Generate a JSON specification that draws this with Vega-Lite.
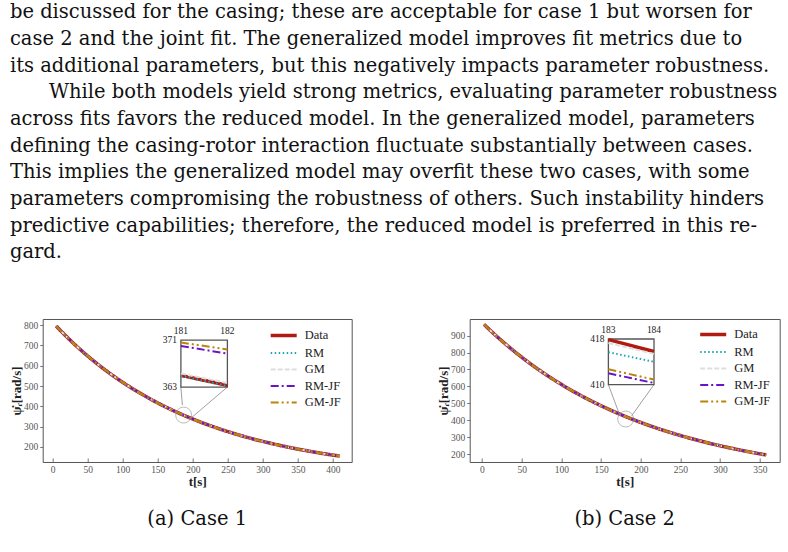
{
  "$schema": "https://vega.github.io/schema/vega-lite/v6.json",
  "background": "white",
  "padding": {"left": 9.7, "top": 2, "right": 0, "bottom": 0},
  "config": {
    "font": "DejaVu Serif",
    "view": {"stroke": "#555", "strokeWidth": 1},
    "axis": {
      "domain": false, "grid": false, "labelOverlap": false, "labelFlush": false, "tickCount": 20,
      "labelFont": "Liberation Serif", "labelFontSize": 9.5, "labelColor": "#555",
      "tickColor": "#555", "tickWidth": 0.8,
      "titleFont": "Liberation Serif", "titleFontWeight": "bold", "titleFontSize": 13, "titleColor": "#222"
    },
    "axisX": {"tickSize": -4, "labelPadding": 7, "titlePadding": 1},
    "axisY": {"tickSize": 3, "labelPadding": 2, "titlePadding": 0},
    "legend": {
      "labelFont": "Liberation Serif", "labelFontSize": 12.5, "labelColor": "#222",
      "symbolType": "M-2,0H2", "symbolSize": 169, "rowPadding": 2.5, "labelOffset": 12.5, "padding": 0
    }
  },
  "title": {
    "text": [
      "be discussed for the casing; these are acceptable for case 1 but worsen for",
      "case 2 and the joint fit. The generalized model improves fit metrics due to",
      "its additional parameters, but this negatively impacts parameter robustness.",
      "\u200b\u2003\u2003While both models yield strong metrics, evaluating parameter robustness",
      "across fits favors the reduced model. In the generalized model, parameters",
      "defining the casing-rotor interaction fluctuate substantially between cases.",
      "This implies the generalized model may overfit these two cases, with some",
      "parameters compromising the robustness of others. Such instability hinders",
      "predictive capabilities; therefore, the reduced model is preferred in this re-",
      "gard."
    ],
    "anchor": "start", "frame": "bounds",
    "font": "DejaVu Serif", "fontSize": 19.5, "fontWeight": "normal",
    "lineHeight": 26.7, "color": "#111", "offset": 54
  },
  "datasets": {
    "case1": [
      {"t": 5, "Data": 795.0, "RM": 795.0, "GM": 795.0, "RM-JF": 795.0, "GM-JF": 795.0},
      {"t": 15, "Data": 759.3, "RM": 759.3, "GM": 759.3, "RM-JF": 759.3, "GM-JF": 759.3},
      {"t": 25, "Data": 725.4, "RM": 725.4, "GM": 725.4, "RM-JF": 725.4, "GM-JF": 725.4},
      {"t": 35, "Data": 693.1, "RM": 693.1, "GM": 693.1, "RM-JF": 693.1, "GM-JF": 693.1},
      {"t": 45, "Data": 662.3, "RM": 662.3, "GM": 662.3, "RM-JF": 662.3, "GM-JF": 662.3},
      {"t": 55, "Data": 633.1, "RM": 633.1, "GM": 633.1, "RM-JF": 633.1, "GM-JF": 633.1},
      {"t": 65, "Data": 605.2, "RM": 605.2, "GM": 605.2, "RM-JF": 605.2, "GM-JF": 605.2},
      {"t": 75, "Data": 578.7, "RM": 578.7, "GM": 578.7, "RM-JF": 578.7, "GM-JF": 578.7},
      {"t": 85, "Data": 553.5, "RM": 553.5, "GM": 553.5, "RM-JF": 553.5, "GM-JF": 553.5},
      {"t": 95, "Data": 529.5, "RM": 529.5, "GM": 529.5, "RM-JF": 529.5, "GM-JF": 529.5},
      {"t": 105, "Data": 506.6, "RM": 506.6, "GM": 506.6, "RM-JF": 506.6, "GM-JF": 506.6},
      {"t": 115, "Data": 484.8, "RM": 484.8, "GM": 484.8, "RM-JF": 484.8, "GM-JF": 484.8},
      {"t": 125, "Data": 464.1, "RM": 464.1, "GM": 464.1, "RM-JF": 464.1, "GM-JF": 464.1},
      {"t": 135, "Data": 444.4, "RM": 444.4, "GM": 444.4, "RM-JF": 444.4, "GM-JF": 444.4},
      {"t": 145, "Data": 425.6, "RM": 425.6, "GM": 425.6, "RM-JF": 425.6, "GM-JF": 425.6},
      {"t": 155, "Data": 407.7, "RM": 407.7, "GM": 407.7, "RM-JF": 407.7, "GM-JF": 407.7},
      {"t": 165, "Data": 390.7, "RM": 390.7, "GM": 390.7, "RM-JF": 390.7, "GM-JF": 390.7},
      {"t": 175, "Data": 374.5, "RM": 374.5, "GM": 374.5, "RM-JF": 374.5, "GM-JF": 374.5},
      {"t": 185, "Data": 359.1, "RM": 359.1, "GM": 359.1, "RM-JF": 359.1, "GM-JF": 359.1},
      {"t": 195, "Data": 344.4, "RM": 344.4, "GM": 344.4, "RM-JF": 344.4, "GM-JF": 344.4},
      {"t": 205, "Data": 330.5, "RM": 330.5, "GM": 330.5, "RM-JF": 330.5, "GM-JF": 330.5},
      {"t": 215, "Data": 317.2, "RM": 317.2, "GM": 317.2, "RM-JF": 317.2, "GM-JF": 317.2},
      {"t": 225, "Data": 304.6, "RM": 304.6, "GM": 304.6, "RM-JF": 304.6, "GM-JF": 304.6},
      {"t": 235, "Data": 292.5, "RM": 292.5, "GM": 292.5, "RM-JF": 292.5, "GM-JF": 292.5},
      {"t": 245, "Data": 281.1, "RM": 281.1, "GM": 281.1, "RM-JF": 281.1, "GM-JF": 281.1},
      {"t": 255, "Data": 270.2, "RM": 270.2, "GM": 270.2, "RM-JF": 270.2, "GM-JF": 270.2},
      {"t": 265, "Data": 259.8, "RM": 259.8, "GM": 259.8, "RM-JF": 259.8, "GM-JF": 259.8},
      {"t": 275, "Data": 249.9, "RM": 249.9, "GM": 249.9, "RM-JF": 249.9, "GM-JF": 249.9},
      {"t": 285, "Data": 240.5, "RM": 240.5, "GM": 240.5, "RM-JF": 240.5, "GM-JF": 240.5},
      {"t": 295, "Data": 231.6, "RM": 231.6, "GM": 231.6, "RM-JF": 231.6, "GM-JF": 231.6},
      {"t": 305, "Data": 223.1, "RM": 223.1, "GM": 223.1, "RM-JF": 223.1, "GM-JF": 223.1},
      {"t": 315, "Data": 215.0, "RM": 215.0, "GM": 215.0, "RM-JF": 215.0, "GM-JF": 215.0},
      {"t": 325, "Data": 207.3, "RM": 207.3, "GM": 207.3, "RM-JF": 207.3, "GM-JF": 207.3},
      {"t": 335, "Data": 199.9, "RM": 199.9, "GM": 199.9, "RM-JF": 199.9, "GM-JF": 199.9},
      {"t": 345, "Data": 192.9, "RM": 192.9, "GM": 192.9, "RM-JF": 192.9, "GM-JF": 192.9},
      {"t": 355, "Data": 186.3, "RM": 186.3, "GM": 186.3, "RM-JF": 186.3, "GM-JF": 186.3},
      {"t": 365, "Data": 180.0, "RM": 180.0, "GM": 180.0, "RM-JF": 180.0, "GM-JF": 180.0},
      {"t": 375, "Data": 173.9, "RM": 173.9, "GM": 173.9, "RM-JF": 173.9, "GM-JF": 173.9},
      {"t": 385, "Data": 168.2, "RM": 168.2, "GM": 168.2, "RM-JF": 168.2, "GM-JF": 168.2},
      {"t": 395, "Data": 162.7, "RM": 162.7, "GM": 162.7, "RM-JF": 162.7, "GM-JF": 162.7},
      {"t": 405, "Data": 157.5, "RM": 157.5, "GM": 157.5, "RM-JF": 157.5, "GM-JF": 157.5},
      {"t": 410, "Data": 155.0, "RM": 155.0, "GM": 155.0, "RM-JF": 155.0, "GM-JF": 155.0}
    ],
    "case2": [
      {"t": 2.5, "Data": 966.0, "RM": 966.0, "GM": 966.0, "RM-JF": 966.0, "GM-JF": 966.0},
      {"t": 12.5, "Data": 921.4, "RM": 921.4, "GM": 921.4, "RM-JF": 921.4, "GM-JF": 921.4},
      {"t": 22.5, "Data": 878.9, "RM": 878.9, "GM": 878.9, "RM-JF": 878.9, "GM-JF": 878.9},
      {"t": 32.5, "Data": 838.4, "RM": 838.4, "GM": 838.4, "RM-JF": 838.4, "GM-JF": 838.4},
      {"t": 42.5, "Data": 799.8, "RM": 799.8, "GM": 799.8, "RM-JF": 799.8, "GM-JF": 799.8},
      {"t": 52.5, "Data": 763.1, "RM": 763.1, "GM": 763.1, "RM-JF": 763.1, "GM-JF": 763.1},
      {"t": 62.5, "Data": 728.1, "RM": 728.1, "GM": 728.1, "RM-JF": 728.1, "GM-JF": 728.1},
      {"t": 72.5, "Data": 694.8, "RM": 694.8, "GM": 694.8, "RM-JF": 694.8, "GM-JF": 694.8},
      {"t": 82.5, "Data": 663.1, "RM": 663.1, "GM": 663.1, "RM-JF": 663.1, "GM-JF": 663.1},
      {"t": 92.5, "Data": 632.9, "RM": 632.9, "GM": 632.9, "RM-JF": 632.9, "GM-JF": 632.9},
      {"t": 102.5, "Data": 604.2, "RM": 604.2, "GM": 604.2, "RM-JF": 604.2, "GM-JF": 604.2},
      {"t": 112.5, "Data": 576.8, "RM": 576.8, "GM": 576.8, "RM-JF": 576.8, "GM-JF": 576.8},
      {"t": 122.5, "Data": 550.7, "RM": 550.7, "GM": 550.7, "RM-JF": 550.7, "GM-JF": 550.7},
      {"t": 132.5, "Data": 525.9, "RM": 525.9, "GM": 525.9, "RM-JF": 525.9, "GM-JF": 525.9},
      {"t": 142.5, "Data": 502.2, "RM": 502.2, "GM": 502.2, "RM-JF": 502.2, "GM-JF": 502.2},
      {"t": 152.5, "Data": 479.7, "RM": 479.7, "GM": 479.7, "RM-JF": 479.7, "GM-JF": 479.7},
      {"t": 162.5, "Data": 458.3, "RM": 458.3, "GM": 458.3, "RM-JF": 458.3, "GM-JF": 458.3},
      {"t": 172.5, "Data": 437.9, "RM": 437.9, "GM": 437.9, "RM-JF": 437.9, "GM-JF": 437.9},
      {"t": 182.5, "Data": 418.4, "RM": 418.4, "GM": 418.4, "RM-JF": 418.4, "GM-JF": 418.4},
      {"t": 192.5, "Data": 399.9, "RM": 399.9, "GM": 399.9, "RM-JF": 399.9, "GM-JF": 399.9},
      {"t": 202.5, "Data": 382.2, "RM": 382.2, "GM": 382.2, "RM-JF": 382.2, "GM-JF": 382.2},
      {"t": 212.5, "Data": 365.4, "RM": 365.4, "GM": 365.4, "RM-JF": 365.4, "GM-JF": 365.4},
      {"t": 222.5, "Data": 349.4, "RM": 349.4, "GM": 349.4, "RM-JF": 349.4, "GM-JF": 349.4},
      {"t": 232.5, "Data": 334.2, "RM": 334.2, "GM": 334.2, "RM-JF": 334.2, "GM-JF": 334.2},
      {"t": 242.5, "Data": 319.7, "RM": 319.7, "GM": 319.7, "RM-JF": 319.7, "GM-JF": 319.7},
      {"t": 252.5, "Data": 305.9, "RM": 305.9, "GM": 305.9, "RM-JF": 305.9, "GM-JF": 305.9},
      {"t": 262.5, "Data": 292.7, "RM": 292.7, "GM": 292.7, "RM-JF": 292.7, "GM-JF": 292.7},
      {"t": 272.5, "Data": 280.2, "RM": 280.2, "GM": 280.2, "RM-JF": 280.2, "GM-JF": 280.2},
      {"t": 282.5, "Data": 268.3, "RM": 268.3, "GM": 268.3, "RM-JF": 268.3, "GM-JF": 268.3},
      {"t": 292.5, "Data": 256.9, "RM": 256.9, "GM": 256.9, "RM-JF": 256.9, "GM-JF": 256.9},
      {"t": 302.5, "Data": 246.1, "RM": 246.1, "GM": 246.1, "RM-JF": 246.1, "GM-JF": 246.1},
      {"t": 312.5, "Data": 235.8, "RM": 235.8, "GM": 235.8, "RM-JF": 235.8, "GM-JF": 235.8},
      {"t": 322.5, "Data": 226.0, "RM": 226.0, "GM": 226.0, "RM-JF": 226.0, "GM-JF": 226.0},
      {"t": 332.5, "Data": 216.6, "RM": 216.6, "GM": 216.6, "RM-JF": 216.6, "GM-JF": 216.6},
      {"t": 342.5, "Data": 207.7, "RM": 207.7, "GM": 207.7, "RM-JF": 207.7, "GM-JF": 207.7},
      {"t": 352.5, "Data": 199.2, "RM": 199.2, "GM": 199.2, "RM-JF": 199.2, "GM-JF": 199.2},
      {"t": 358, "Data": 195.0, "RM": 195.0, "GM": 195.0, "RM-JF": 195.0, "GM-JF": 195.0}
    ],
    "zoom1": [
      {"t": 181, "Data": 365.0, "RM": 364.9, "GM": 365.3, "RM-JF": 370.0, "GM-JF": 370.6},
      {"t": 182, "Data": 363.3, "RM": 363.2, "GM": 363.7, "RM-JF": 368.7, "GM-JF": 369.4}
    ],
    "zoom2": [
      {"t": 183, "Data": 417.9, "RM": 415.7, "GM": 417.3, "RM-JF": 412.0, "GM-JF": 412.7},
      {"t": 184, "Data": 415.8, "RM": 414.0, "GM": 415.4, "RM-JF": 410.3, "GM-JF": 410.9}
    ]
  },
  "bounds": "flush",
  "spacing": 118,
  "resolve": {"scale": {"color": "independent", "strokeDash": "independent", "strokeWidth": "independent"}},
  "hconcat": [
    {
      "width": 309,
      "height": 143,
      "title": {"text": "(a) Case 1", "orient": "bottom", "anchor": "middle", "frame": "group", "font": "DejaVu Serif", "fontSize": 19.5, "fontWeight": "normal", "color": "#111", "offset": 22},
      "layer": [
        {
          "layer": [
            {
              "data": {"name": "case1"},
              "transform": [{"fold": ["Data", "RM", "GM", "RM-JF", "GM-JF"], "as": ["series", "w"]}],
              "mark": {"type": "line", "strokeCap": "butt"},
              "encoding": {
                "x": {"field": "t", "type": "quantitative", "scale": {"domain": [-14.3, 427], "nice": false, "zero": false}, "axis": {"values": [0, 50, 100, 150, 200, 250, 300, 350, 400], "tickCount": 20, "labelOverlap": false, "title": "t[s]"}},
                "y": {"field": "w", "type": "quantitative", "scale": {"domain": [126, 830], "nice": false, "zero": false}, "axis": {"values": [200, 300, 400, 500, 600, 700, 800], "tickCount": 20, "labelOverlap": false, "title": "ψ̇ᵣ[rad/s]"}},
                "color": {"field": "series", "type": "nominal", "scale": {"domain": ["Data", "RM", "GM", "RM-JF", "GM-JF"], "range": ["#b01a10", "#1ba6b5", "#dedede", "#6b14c4", "#b8860b"]}, "legend": {"title": null, "orient": "none", "legendX": 232.5, "legendY": 8}},
                "strokeDash": {"field": "series", "type": "nominal", "scale": {"domain": ["Data", "RM", "GM", "RM-JF", "GM-JF"], "range": [[1, 0], [1.5, 2.5], [5, 2], [8, 3, 2, 3], [8, 3, 2, 3, 2, 3]]}},
                "strokeWidth": {"field": "series", "type": "nominal", "scale": {"type": "ordinal", "domain": ["Data", "RM", "GM", "RM-JF", "GM-JF"], "range": [3.5, 2, 2, 2, 2]}}
              }
            },
            {
              "data": {"values": [{"t": 187, "w": 357}]},
              "mark": {"type": "point", "filled": false, "stroke": "#888", "strokeWidth": 0.8, "size": 256},
              "encoding": {"x": {"field": "t", "type": "quantitative"}, "y": {"field": "w", "type": "quantitative"}}
            },
            {
              "data": {"values": [{"t": 183, "w": 495, "t2": 185.2, "w2": 406.6}, {"t": 249.5, "w": 495, "t2": 197.1, "w2": 341.1}]},
              "mark": {"type": "rule", "stroke": "#888", "strokeWidth": 0.8},
              "encoding": {"x": {"field": "t", "type": "quantitative"}, "y": {"field": "w", "type": "quantitative"}, "x2": {"field": "t2"}, "y2": {"field": "w2"}}
            }
          ]
        },
        {
          "layer": [
            {
              "data": {"values": [{}]},
              "mark": {"type": "rect", "fill": "white", "stroke": "#555", "strokeWidth": 1.3},
              "encoding": {
                "x": {"datum": 181, "type": "quantitative", "scale": {"domain": [181, 182], "range": [138.2, 184.7], "nice": false, "zero": false}, "axis": null},
                "x2": {"datum": 182},
                "y": {"datum": 363, "type": "quantitative", "scale": {"domain": [363, 371], "range": [68.1, 21.1], "nice": false, "zero": false}, "axis": null},
                "y2": {"datum": 371}
              }
            },
            {
              "data": {"name": "zoom1"},
              "transform": [{"fold": ["Data", "RM", "GM", "RM-JF", "GM-JF"], "as": ["series", "w"]}],
              "mark": {"type": "line", "strokeCap": "butt"},
              "encoding": {
                "x": {"field": "t", "type": "quantitative", "scale": {"domain": [181, 182], "range": [138.2, 184.7], "nice": false, "zero": false}, "axis": null},
                "y": {"field": "w", "type": "quantitative", "scale": {"domain": [363, 371], "range": [68.1, 21.1], "nice": false, "zero": false}, "axis": null},
                "color": {"field": "series", "type": "nominal", "scale": {"domain": ["Data", "RM", "GM", "RM-JF", "GM-JF"], "range": ["#b01a10", "#1ba6b5", "#dedede", "#6b14c4", "#b8860b"]}},
                "strokeDash": {"field": "series", "type": "nominal", "scale": {"domain": ["Data", "RM", "GM", "RM-JF", "GM-JF"], "range": [[1, 0], [1.5, 2.5], [5, 2], [8, 3, 2, 3], [8, 3, 2, 3, 2, 3]]}},
                "strokeWidth": {"field": "series", "type": "nominal", "scale": {"type": "ordinal", "domain": ["Data", "RM", "GM", "RM-JF", "GM-JF"], "range": [3.5, 2, 2, 2, 2]}}
              }
            },
            {
              "data": {"values": [{"t": 181}, {"t": 182}]},
              "mark": {"type": "text", "font": "Liberation Serif", "fontSize": 9.5, "color": "#222", "baseline": "bottom", "dy": -4},
              "encoding": {
                "x": {"field": "t", "type": "quantitative", "scale": {"domain": [181, 182], "range": [138.2, 184.7], "nice": false, "zero": false}, "axis": null},
                "y": {"datum": 371, "type": "quantitative", "scale": {"domain": [363, 371], "range": [68.1, 21.1], "nice": false, "zero": false}, "axis": null},
                "text": {"field": "t", "type": "quantitative"}
              }
            },
            {
              "data": {"values": [{"w": 371}, {"w": 363}]},
              "mark": {"type": "text", "font": "Liberation Serif", "fontSize": 9.5, "color": "#222", "align": "right", "baseline": "middle", "dx": -4},
              "encoding": {
                "x": {"datum": 181, "type": "quantitative", "scale": {"domain": [181, 182], "range": [138.2, 184.7], "nice": false, "zero": false}, "axis": null},
                "y": {"field": "w", "type": "quantitative", "scale": {"domain": [363, 371], "range": [68.1, 21.1], "nice": false, "zero": false}, "axis": null},
                "text": {"field": "w", "type": "quantitative"}
              }
            }
          ]
        }
      ],
      "resolve": {"scale": {"x": "independent", "y": "independent"}}
    },
    {
      "width": 310,
      "height": 143,
      "title": {"text": "(b) Case 2", "orient": "bottom", "anchor": "middle", "frame": "group", "font": "DejaVu Serif", "fontSize": 19.5, "fontWeight": "normal", "color": "#111", "offset": 22},
      "layer": [
        {
          "layer": [
            {
              "data": {"name": "case2"},
              "transform": [{"fold": ["Data", "RM", "GM", "RM-JF", "GM-JF"], "as": ["series", "w"]}],
              "mark": {"type": "line", "strokeCap": "butt"},
              "encoding": {
                "x": {"field": "t", "type": "quantitative", "scale": {"domain": [-15.5, 375], "nice": false, "zero": false}, "axis": {"values": [0, 50, 100, 150, 200, 250, 300, 350], "tickCount": 20, "labelOverlap": false, "title": "t[s]"}},
                "y": {"field": "w", "type": "quantitative", "scale": {"domain": [153, 998], "nice": false, "zero": false}, "axis": {"values": [200, 300, 400, 500, 600, 700, 800, 900], "tickCount": 20, "labelOverlap": false, "title": "ψ̇ᵣ[rad/s]"}},
                "color": {"field": "series", "type": "nominal", "scale": {"domain": ["Data", "RM", "GM", "RM-JF", "GM-JF"], "range": ["#b01a10", "#1ba6b5", "#dedede", "#6b14c4", "#b8860b"]}, "legend": {"title": null, "orient": "none", "legendX": 235, "legendY": 7}},
                "strokeDash": {"field": "series", "type": "nominal", "scale": {"domain": ["Data", "RM", "GM", "RM-JF", "GM-JF"], "range": [[1, 0], [1.5, 2.5], [5, 2], [8, 3, 2, 3], [8, 3, 2, 3, 2, 3]]}},
                "strokeWidth": {"field": "series", "type": "nominal", "scale": {"type": "ordinal", "domain": ["Data", "RM", "GM", "RM-JF", "GM-JF"], "range": [3.5, 2, 2, 2, 2]}}
              }
            },
            {
              "data": {"values": [{"t": 181, "w": 407}]},
              "mark": {"type": "point", "filled": false, "stroke": "#888", "strokeWidth": 0.8, "size": 256},
              "encoding": {"x": {"field": "t", "type": "quantitative"}, "y": {"field": "w", "type": "quantitative"}}
            },
            {
              "data": {"values": [{"t": 159.2, "w": 609.8, "t2": 173.8, "w2": 426.6}, {"t": 216.6, "w": 609.8, "t2": 188.6, "w2": 426.6}]},
              "mark": {"type": "rule", "stroke": "#888", "strokeWidth": 0.8},
              "encoding": {"x": {"field": "t", "type": "quantitative"}, "y": {"field": "w", "type": "quantitative"}, "x2": {"field": "t2"}, "y2": {"field": "w2"}}
            }
          ]
        },
        {
          "layer": [
            {
              "data": {"values": [{}]},
              "mark": {"type": "rect", "fill": "white", "stroke": "#555", "strokeWidth": 1.3},
              "encoding": {
                "x": {"datum": 183, "type": "quantitative", "scale": {"domain": [183, 184], "range": [138.7, 184.3], "nice": false, "zero": false}, "axis": null},
                "x2": {"datum": 184},
                "y": {"datum": 410, "type": "quantitative", "scale": {"domain": [410, 418], "range": [65.7, 20], "nice": false, "zero": false}, "axis": null},
                "y2": {"datum": 418}
              }
            },
            {
              "data": {"name": "zoom2"},
              "transform": [{"fold": ["Data", "RM", "GM", "RM-JF", "GM-JF"], "as": ["series", "w"]}],
              "mark": {"type": "line", "strokeCap": "butt"},
              "encoding": {
                "x": {"field": "t", "type": "quantitative", "scale": {"domain": [183, 184], "range": [138.7, 184.3], "nice": false, "zero": false}, "axis": null},
                "y": {"field": "w", "type": "quantitative", "scale": {"domain": [410, 418], "range": [65.7, 20], "nice": false, "zero": false}, "axis": null},
                "color": {"field": "series", "type": "nominal", "scale": {"domain": ["Data", "RM", "GM", "RM-JF", "GM-JF"], "range": ["#b01a10", "#1ba6b5", "#dedede", "#6b14c4", "#b8860b"]}},
                "strokeDash": {"field": "series", "type": "nominal", "scale": {"domain": ["Data", "RM", "GM", "RM-JF", "GM-JF"], "range": [[1, 0], [1.5, 2.5], [5, 2], [8, 3, 2, 3], [8, 3, 2, 3, 2, 3]]}},
                "strokeWidth": {"field": "series", "type": "nominal", "scale": {"type": "ordinal", "domain": ["Data", "RM", "GM", "RM-JF", "GM-JF"], "range": [3.5, 2, 2, 2, 2]}}
              }
            },
            {
              "data": {"values": [{"t": 183}, {"t": 184}]},
              "mark": {"type": "text", "font": "Liberation Serif", "fontSize": 9.5, "color": "#222", "baseline": "bottom", "dy": -4},
              "encoding": {
                "x": {"field": "t", "type": "quantitative", "scale": {"domain": [183, 184], "range": [138.7, 184.3], "nice": false, "zero": false}, "axis": null},
                "y": {"datum": 418, "type": "quantitative", "scale": {"domain": [410, 418], "range": [65.7, 20], "nice": false, "zero": false}, "axis": null},
                "text": {"field": "t", "type": "quantitative"}
              }
            },
            {
              "data": {"values": [{"w": 418}, {"w": 410}]},
              "mark": {"type": "text", "font": "Liberation Serif", "fontSize": 9.5, "color": "#222", "align": "right", "baseline": "middle", "dx": -4},
              "encoding": {
                "x": {"datum": 183, "type": "quantitative", "scale": {"domain": [183, 184], "range": [138.7, 184.3], "nice": false, "zero": false}, "axis": null},
                "y": {"field": "w", "type": "quantitative", "scale": {"domain": [410, 418], "range": [65.7, 20], "nice": false, "zero": false}, "axis": null},
                "text": {"field": "w", "type": "quantitative"}
              }
            }
          ]
        }
      ],
      "resolve": {"scale": {"x": "independent", "y": "independent"}}
    }
  ]
}
